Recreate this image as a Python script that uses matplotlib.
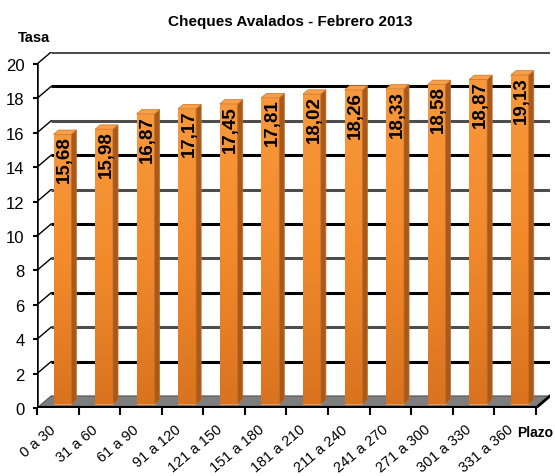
import numpy as np
import matplotlib
matplotlib.use('Agg')
import matplotlib.pyplot as plt
import matplotlib.transforms as mtransforms
from matplotlib.patches import Polygon

# Data
plazos = ['0 a 30', '31 a 60', '61 a 90', '91 a 120', '121 a 150', '151 a 180',
          '181 a 210', '211 a 240', '241 a 270', '271 a 300', '301 a 330', '331 a 360']
tasas = [15.68, 15.98, 16.87, 17.17, 17.45, 17.81, 18.02, 18.26, 18.33, 18.58, 18.87, 19.13]
y_ticks = [0, 2, 4, 6, 8, 10, 12, 14, 16, 18, 20]

plt.rcParams['font.family'] = ['Liberation Sans', 'DejaVu Sans']

fig = plt.figure(figsize=(5.55, 4.77), dpi=100)
ax = fig.add_axes([37 / 555, 68 / 477, 513 / 555, 356 / 477])

n = len(tasas)
ymax = 20
# 3D depth offsets in data units (wall depth)
dx, dy = 0.34, 0.70
# bars sit a third of the way back, with a third of the depth
ox, oy = 0.33 * dx, 0.33 * dy
bx, by = 0.36 * dx, 0.36 * dy
bw = 0.43

for s in ax.spines.values():
    s.set_visible(False)

# back wall gridlines + left wall edges
for v in y_ticks[1:]:
    col = '#4d4d4d' if v % 4 == 0 else 'black'
    ax.plot([dx, n + dx], [v + dy, v + dy], color=col, lw=2.2, zorder=1, solid_capstyle='butt')
    ax.plot([0, dx], [v, v + dy], color='black', lw=1.0, zorder=1)

# floor
floor = Polygon([(0, 0), (n, 0), (n + dx, dy), (dx, dy)], closed=True,
                facecolor='#7e7e7e', edgecolor='#555555', lw=0.8, zorder=1.5)
ax.add_patch(floor)

# axis lines
ax.plot([0, 0], [0, ymax], color='black', lw=1.8, zorder=6)
ax.plot([0, n], [0, 0], color='black', lw=3, zorder=6, solid_capstyle='butt')
ax.plot([n, n + dx], [0, dy], color='black', lw=2, zorder=6)

# bars
xs = np.arange(n) + 0.5 + ox
bars = ax.bar(xs, tasas, width=bw, bottom=oy, color='#ec8227', edgecolor='#f5a050',
              lw=0.6, zorder=3)

grad = np.linspace(0, 1, 256).reshape(-1, 1)
cmap = matplotlib.colors.LinearSegmentedColormap.from_list('o', ['#d9731f', '#f28a2c', '#f7993c'])
for rect, v in zip(bars, tasas):
    x0 = rect.get_x()
    x1 = x0 + rect.get_width()
    yb = rect.get_y()
    yt = yb + rect.get_height()
    im = ax.imshow(grad, extent=[x0, x1, yb, yt], origin='lower', cmap=cmap,
                   aspect='auto', zorder=3.1)
    im.set_clip_path(rect)
    side = Polygon([(x1, yb), (x1 + bx, yb + by), (x1 + bx, yt + by), (x1, yt)],
                   closed=True, facecolor='#a85a1c', edgecolor='#c86e24', lw=0.5, zorder=3.2)
    top = Polygon([(x0, yt), (x1, yt), (x1 + bx, yt + by), (x0 + bx, yt + by)],
                  closed=True, facecolor='#f6a04a', edgecolor='#d07028', lw=0.5, zorder=3.2)
    ax.add_patch(side)
    ax.add_patch(top)
    ax.text(x0 + rect.get_width() / 2 + 0.05, yt - 0.05, f'{v:.2f}'.replace('.', ','),
            rotation=90, ha='center', va='top', fontsize=13.5, fontweight='bold',
            color='black', zorder=7)

ax.set_xlim(0, n + dx)
ax.set_ylim(0, ymax + dy)

# ticks
ax.set_yticks(y_ticks)
ax.set_yticklabels([str(v) for v in y_ticks], fontsize=12)
ax.tick_params(axis='y', length=3, width=1.5, pad=6)
ax.set_xticks(np.arange(n + 1))
ax.set_xticklabels([])
ax.tick_params(axis='x', which='major', length=5, width=1.5, direction='out')
ax.set_xticks(np.arange(n) + 0.5, minor=True)
ax.set_xticklabels(plazos, minor=True, rotation=40, ha='right', va='top', fontsize=10.5)
ax.tick_params(axis='x', which='minor', length=0, pad=10)
shift = mtransforms.ScaledTranslation(1 / 100, 0, fig.dpi_scale_trans)
for lbl in ax.get_xticklabels(minor=True):
    lbl.set_transform(lbl.get_transform() + shift)

fig.text(0.523, 0.954, 'Cheques Avalados - Febrero 2013', ha='center', va='center',
         fontsize=11, fontweight='bold')
fig.text(34 / 555, 1 - 38 / 477, 'Tasa', ha='center', va='center',
         fontsize=10.5, fontweight='bold')
fig.text(553 / 555, 1 - 433 / 477, 'Plazo', ha='right', va='center',
         fontsize=10, fontweight='bold')

fig.savefig('out.png', dpi=100)
